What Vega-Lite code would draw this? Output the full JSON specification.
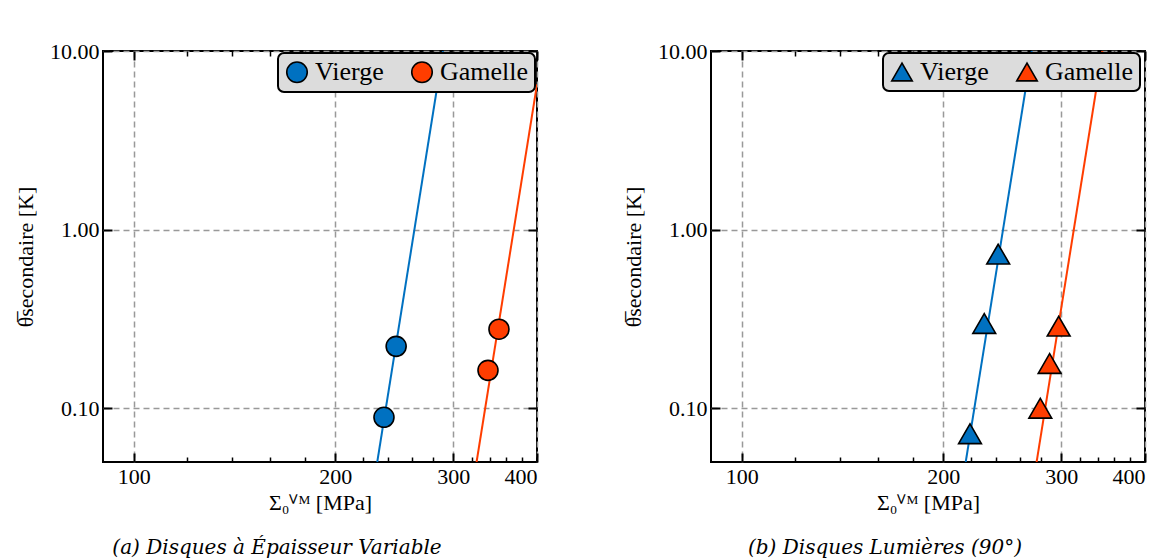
{
  "$schema": "https://vega.github.io/schema/vega-lite/v6.json",
  "padding": {"left": 13, "top": 39, "right": 5, "bottom": 5},
  "background": "white",
  "datasets": {
    "linesA": [
      {"x": 231, "y": 0.05, "serie": "Vierge"},
      {"x": 289.5, "y": 10, "serie": "Vierge"},
      {"x": 325, "y": 0.05, "serie": "Gamelle"},
      {"x": 400, "y": 6.5, "serie": "Gamelle"}
    ],
    "pointsA": [
      {"x": 236.4, "y": 0.089, "serie": "Vierge"},
      {"x": 246.5, "y": 0.222, "serie": "Vierge"},
      {"x": 338, "y": 0.163, "serie": "Gamelle"},
      {"x": 351, "y": 0.277, "serie": "Gamelle"}
    ],
    "linesB": [
      {"x": 216, "y": 0.05, "serie": "Vierge"},
      {"x": 271, "y": 10, "serie": "Vierge"},
      {"x": 275.6, "y": 0.05, "serie": "Gamelle"},
      {"x": 345.5, "y": 10, "serie": "Gamelle"}
    ],
    "pointsB": [
      {"x": 219.2, "y": 0.072, "serie": "Vierge"},
      {"x": 230.2, "y": 0.298, "serie": "Vierge"},
      {"x": 241.5, "y": 0.729, "serie": "Vierge"},
      {"x": 279.1, "y": 0.1, "serie": "Gamelle"},
      {"x": 288.2, "y": 0.178, "serie": "Gamelle"},
      {"x": 297.3, "y": 0.288, "serie": "Gamelle"}
    ]
  },
  "hconcat": [
    {
      "width": 434,
      "height": 411,
      "title": {"text": "(a) Disques à Épaisseur Variable", "orient": "bottom", "anchor": "middle", "dx": -43, "offset": 25},
      "layer": [
        {
          "data": {"name": "linesA"},
          "mark": {"type": "line", "clip": true, "strokeWidth": 2},
          "encoding": {
            "x": {"field": "x", "type": "quantitative", "scale": {"type": "log", "domain": [90, 400], "nice": false},
              "axis": {"orient": "bottom", "values": [100, 200, 300, 400], "format": "d", "grid": true, "tickSize": -9, "title": "Σ₀ⱽᴹ [MPa]"}},
            "y": {"field": "y", "type": "quantitative", "scale": {"type": "log", "domain": [0.05, 10], "nice": false},
              "axis": {"orient": "left", "values": [0.1, 1, 10], "format": ".2f", "grid": true, "tickSize": -9, "labelPadding": 13, "titlePadding": 12, "title": "θ̅secondaire [K]"}},
            "stroke": {"field": "serie", "type": "nominal", "scale": {"domain": ["Vierge", "Gamelle"], "range": ["#0071C1", "#FF3D00"]}, "legend": null}
          }
        },
        {
          "data": {"name": "pointsA"},
          "mark": {"type": "point", "opacity": 0},
          "encoding": {
            "x": {"field": "x", "type": "quantitative", "scale": {"type": "log", "domain": [90, 400], "nice": false}, "axis": {"orient": "bottom", "values": [120, 140, 160, 180, 220, 240, 260, 280, 320, 340, 360, 380], "labels": false, "grid": false, "tickSize": -5, "tickWidth": 1.5, "title": null}},
            "y": {"field": "y", "type": "quantitative", "scale": {"type": "log", "domain": [0.05, 10], "nice": false}, "axis": null}
          }
        },
        {
          "data": {"name": "pointsA"},
          "mark": {"type": "point", "opacity": 0},
          "encoding": {
            "x": {"field": "x", "type": "quantitative", "scale": {"type": "log", "domain": [90, 400], "nice": false}, "axis": {"orient": "top", "values": [120, 140, 160, 180, 220, 240, 260, 280, 320, 340, 360, 380], "labels": false, "grid": false, "tickSize": -5, "tickWidth": 1.5, "title": null}},
            "y": {"field": "y", "type": "quantitative", "scale": {"type": "log", "domain": [0.05, 10], "nice": false}, "axis": null}
          }
        },
        {
          "data": {"name": "pointsA"},
          "mark": {"type": "point", "filled": true, "opacity": 1, "size": 400, "shape": "circle", "stroke": "black", "strokeWidth": 1.6},
          "encoding": {
            "x": {"field": "x", "type": "quantitative", "scale": {"type": "log", "domain": [90, 400], "nice": false}, "axis": {"orient": "top", "values": [100, 200, 300, 400], "labels": false, "grid": false, "tickSize": -9, "title": null}},
            "y": {"field": "y", "type": "quantitative", "scale": {"type": "log", "domain": [0.05, 10], "nice": false}, "axis": {"orient": "right", "values": [0.1, 1, 10], "labels": false, "grid": false, "tickSize": -9, "title": null}},
            "fill": {"field": "serie", "type": "nominal", "scale": {"domain": ["Vierge", "Gamelle"], "range": ["#0071C1", "#FF3D00"]},
              "legend": {"orient": "top-right", "offset": 2, "direction": "horizontal", "title": null}}
          }
        }
      ],
      "resolve": {"axis": {"x": "independent", "y": "independent"}}
    },
    {
      "width": 434,
      "height": 411,
      "title": {"text": "(b) Disques Lumières (90°)", "orient": "bottom", "anchor": "middle", "dx": -43, "offset": 25},
      "layer": [
        {
          "data": {"name": "linesB"},
          "mark": {"type": "line", "clip": true, "strokeWidth": 2},
          "encoding": {
            "x": {"field": "x", "type": "quantitative", "scale": {"type": "log", "domain": [90, 400], "nice": false},
              "axis": {"orient": "bottom", "values": [100, 200, 300, 400], "format": "d", "grid": true, "tickSize": -9, "title": "Σ₀ⱽᴹ [MPa]"}},
            "y": {"field": "y", "type": "quantitative", "scale": {"type": "log", "domain": [0.05, 10], "nice": false},
              "axis": {"orient": "left", "values": [0.1, 1, 10], "format": ".2f", "grid": true, "tickSize": -9, "labelPadding": 13, "titlePadding": 12, "title": "θ̅secondaire [K]"}},
            "stroke": {"field": "serie", "type": "nominal", "scale": {"domain": ["Vierge", "Gamelle"], "range": ["#0071C1", "#FF3D00"]}, "legend": null}
          }
        },
        {
          "data": {"name": "pointsB"},
          "mark": {"type": "point", "opacity": 0},
          "encoding": {
            "x": {"field": "x", "type": "quantitative", "scale": {"type": "log", "domain": [90, 400], "nice": false}, "axis": {"orient": "bottom", "values": [120, 140, 160, 180, 220, 240, 260, 280, 320, 340, 360, 380], "labels": false, "grid": false, "tickSize": -5, "tickWidth": 1.5, "title": null}},
            "y": {"field": "y", "type": "quantitative", "scale": {"type": "log", "domain": [0.05, 10], "nice": false}, "axis": null}
          }
        },
        {
          "data": {"name": "pointsB"},
          "mark": {"type": "point", "opacity": 0},
          "encoding": {
            "x": {"field": "x", "type": "quantitative", "scale": {"type": "log", "domain": [90, 400], "nice": false}, "axis": {"orient": "top", "values": [120, 140, 160, 180, 220, 240, 260, 280, 320, 340, 360, 380], "labels": false, "grid": false, "tickSize": -5, "tickWidth": 1.5, "title": null}},
            "y": {"field": "y", "type": "quantitative", "scale": {"type": "log", "domain": [0.05, 10], "nice": false}, "axis": null}
          }
        },
        {
          "data": {"name": "pointsB"},
          "mark": {"type": "point", "filled": true, "opacity": 1, "size": 520, "shape": "triangle-up", "stroke": "black", "strokeWidth": 1.6},
          "encoding": {
            "x": {"field": "x", "type": "quantitative", "scale": {"type": "log", "domain": [90, 400], "nice": false}, "axis": {"orient": "top", "values": [100, 200, 300, 400], "labels": false, "grid": false, "tickSize": -9, "title": null}},
            "y": {"field": "y", "type": "quantitative", "scale": {"type": "log", "domain": [0.05, 10], "nice": false}, "axis": {"orient": "right", "values": [0.1, 1, 10], "labels": false, "grid": false, "tickSize": -9, "title": null}},
            "fill": {"field": "serie", "type": "nominal", "scale": {"domain": ["Vierge", "Gamelle"], "range": ["#0071C1", "#FF3D00"]},
              "legend": {"orient": "none", "legendX": 172, "legendY": 2, "direction": "horizontal", "title": null}}
          }
        }
      ],
      "resolve": {"axis": {"x": "independent", "y": "independent"}}
    }
  ],
  "spacing": 174,
  "bounds": "flush",
  "config": {
    "font": "Liberation Serif",
    "view": {"stroke": "black", "strokeWidth": 2},
    "axis": {
      "domain": false,
      "tickColor": "black",
      "tickWidth": 2,
      "labelFont": "Liberation Serif",
      "labelFontSize": 22,
      "labelColor": "black",
      "labelPadding": 13,
      "titleFont": "Liberation Serif",
      "titleFontSize": 22,
      "titleFontWeight": "normal",
      "titleColor": "black",
      "titlePadding": 5,
      "gridColor": "#999999",
      "gridDash": [6, 4],
      "gridWidth": 1.5,
      "gridOpacity": 1
    },
    "legend": {
      "fillColor": "#DCDCDC",
      "strokeColor": "black",
      "strokeWidth": 2,
      "cornerRadius": 6,
      "padding": 6,
      "labelFont": "Liberation Serif",
      "labelFontSize": 26,
      "labelColor": "black",
      "symbolSize": 420,
      "symbolStrokeColor": "black",
      "symbolStrokeWidth": 1.6,
      "symbolOpacity": 1,
      "columnPadding": 24,
      "labelOffset": 5
    },
    "title": {
      "font": "DejaVu Serif",
      "fontSize": 20,
      "fontStyle": "italic",
      "fontWeight": "normal",
      "color": "black"
    }
  }
}
